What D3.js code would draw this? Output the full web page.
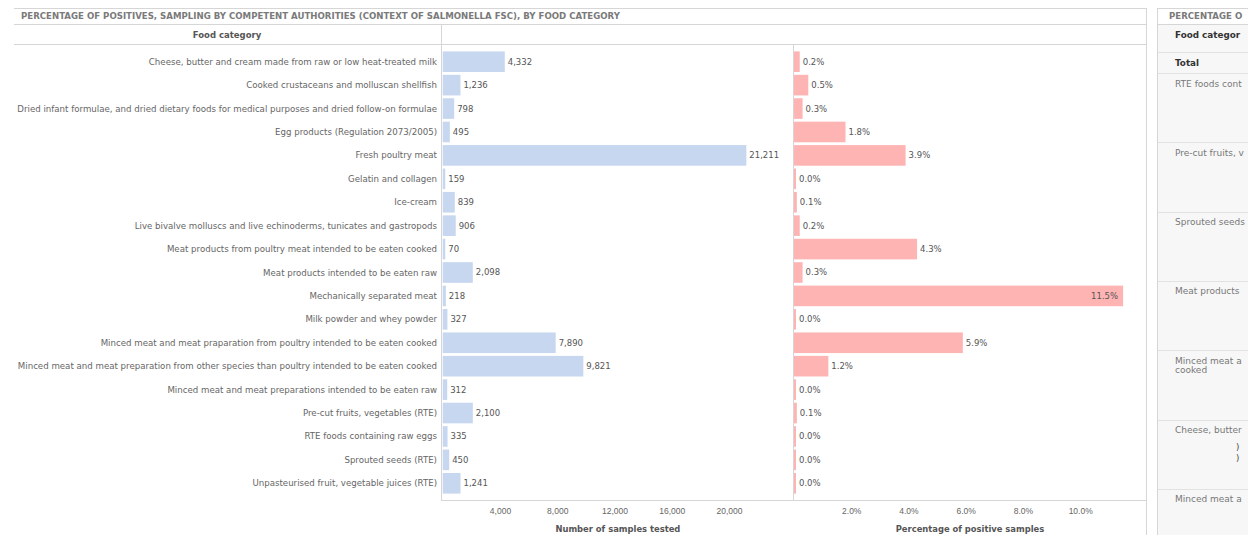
<!DOCTYPE html>
<html>
<head>
<meta charset="utf-8">
<script src="https://cdn.jsdelivr.net/npm/d3@7"></script>
<style>
  body { margin: 0; background: #fff; }
  svg { display: block; font-family: "DejaVu Sans", Verdana, sans-serif; }
</style>
</head>
<body>
<div id="chart"></div>
<script>
const categories = [
  "Cheese, butter and cream made from raw or low heat-treated milk",
  "Cooked crustaceans and molluscan shellfish",
  "Dried infant formulae, and dried dietary foods for medical purposes and dried follow-on formulae",
  "Egg products (Regulation 2073/2005)",
  "Fresh poultry meat",
  "Gelatin and collagen",
  "Ice-cream",
  "Live bivalve molluscs and live echinoderms, tunicates and gastropods",
  "Meat products from poultry meat intended to be eaten cooked",
  "Meat products intended to be eaten raw",
  "Mechanically separated meat",
  "Milk powder and whey powder",
  "Minced meat and meat praparation from poultry intended to be eaten cooked",
  "Minced meat and meat preparation from other species than poultry intended to be eaten cooked",
  "Minced meat and meat preparations intended to be eaten raw",
  "Pre-cut fruits, vegetables (RTE)",
  "RTE foods containing raw eggs",
  "Sprouted seeds (RTE)",
  "Unpasteurised fruit, vegetable juices (RTE)"
];
const samplesTested = [4332, 1236, 798, 495, 21211, 159, 839, 906, 70, 2098, 218, 327, 7890, 9821, 312, 2100, 335, 450, 1241];
const pctPositive = [0.2, 0.5, 0.3, 1.8, 3.9, 0.0, 0.1, 0.2, 4.3, 0.3, 11.5, 0.0, 5.9, 1.2, 0.0, 0.1, 0.0, 0.0, 0.0];
const samplesTicks = [4000, 8000, 12000, 16000, 20000];
const pctTicks = [2, 4, 6, 8, 10];

// second sheet on the right, only its left edge shows in the window
const sideRows = [
  ["RTE foods cont"],
  ["Pre-cut fruits, v"],
  ["Sprouted seeds"],
  ["Meat products"],
  ["Minced meat a", "cooked"],
  ["Cheese, butter"],
  ["Minced meat a"]
];

const W = 1248, H = 535;
const svg = d3.select("#chart").append("svg")
  .attr("width", W).attr("height", H);

const lineCol = "#d6d6d6";
const textCol = "#666";

const y = d3.scaleBand()
  .domain(categories)
  .range([50, 495])
  .paddingInner(0.12)
  .paddingOuter(0.06);

const xN = d3.scaleLinear().domain([0, 24470]).range([442.75, 793]);
const xP = d3.scaleLinear().domain([0, 12.3]).range([794, 1146]);

// frame lines
const hl = (x1, x2, yy) => svg.append("line").attr("x1", x1).attr("x2", x2).attr("y1", yy).attr("y2", yy).attr("stroke", lineCol);
const vl = (xx, y1, y2) => svg.append("line").attr("x1", xx).attr("x2", xx).attr("y1", y1).attr("y2", y2).attr("stroke", lineCol);
hl(14, 1146.5, 8.5);
hl(14, 1146.5, 24.5);
hl(14, 1146.5, 44.5);
vl(1146.5, 8, H);
vl(441.5, 24, 500);
vl(793.5, 44, 500);
hl(441, 1146.5, 500.5);

svg.append("text")
  .attr("x", 21).attr("y", 19)
  .attr("font-size", 8.6).attr("font-weight", "bold")
  .attr("fill", "#7a7a7a")
  .text("PERCENTAGE OF POSITIVES, SAMPLING BY COMPETENT AUTHORITIES (CONTEXT OF SALMONELLA FSC), BY FOOD CATEGORY");

svg.append("text")
  .attr("x", 227).attr("y", 37.5)
  .attr("text-anchor", "middle")
  .attr("font-size", 8.5).attr("font-weight", "bold")
  .attr("fill", "#555")
  .text("Food category");

// row labels
svg.append("g").selectAll("text")
  .data(categories)
  .join("text")
  .attr("x", 437)
  .attr("y", d => y(d) + y.bandwidth() / 2)
  .attr("dy", "0.35em")
  .attr("text-anchor", "end")
  .attr("font-size", 8.65)
  .attr("fill", textCol)
  .text(d => d);

const rows = categories.map((c, i) => ({ c, n: samplesTested[i], p: pctPositive[i] }));

// sample bars
svg.append("g").selectAll("rect")
  .data(rows)
  .join("rect")
  .attr("x", xN(0))
  .attr("y", d => y(d.c))
  .attr("width", d => Math.max(2.5, xN(d.n) - xN(0)))
  .attr("height", y.bandwidth())
  .attr("fill", "#c6d7ef");

svg.append("g").selectAll("text")
  .data(rows)
  .join("text")
  .attr("x", d => Math.max(xN(0) + 2.5, xN(d.n)) + 3)
  .attr("y", d => y(d.c) + y.bandwidth() / 2)
  .attr("dy", "0.35em")
  .attr("font-size", 8.5)
  .attr("fill", "#555")
  .text(d => d3.format(",")(d.n));

// percentage bars
svg.append("g").selectAll("rect")
  .data(rows)
  .join("rect")
  .attr("x", xP(0))
  .attr("y", d => y(d.c))
  .attr("width", d => Math.max(2, xP(d.p) - xP(0)))
  .attr("height", y.bandwidth())
  .attr("fill", "#ffb4b4");

svg.append("g").selectAll("text")
  .data(rows)
  .join("text")
  .attr("x", d => {
    const end = Math.max(xP(0) + 2, xP(d.p));
    return end + 40 > 1146 ? end - 5 : end + 3;
  })
  .attr("text-anchor", d => xP(d.p) + 40 > 1146 ? "end" : "start")
  .attr("y", d => y(d.c) + y.bandwidth() / 2)
  .attr("dy", "0.35em")
  .attr("font-size", 8.5)
  .attr("fill", "#555")
  .text(d => d.p.toFixed(1) + "%");

// axes
const axN = svg.append("g")
  .attr("transform", "translate(0,500.5)")
  .call(d3.axisBottom(xN).tickValues(samplesTicks).tickFormat(d3.format(",")).tickSize(0).tickPadding(7));
const axP = svg.append("g")
  .attr("transform", "translate(0,500.5)")
  .call(d3.axisBottom(xP).tickValues(pctTicks).tickFormat(d => d.toFixed(1) + "%").tickSize(0).tickPadding(7));
[axN, axP].forEach(a => {
  a.select(".domain").remove();
  a.selectAll("text").attr("font-size", 8.5).attr("fill", textCol).attr("font-family", null);
});

svg.append("text")
  .attr("x", (xN.range()[0] + xN.range()[1]) / 2).attr("y", 532)
  .attr("text-anchor", "middle")
  .attr("font-size", 8.4).attr("font-weight", "bold").attr("fill", "#555")
  .text("Number of samples tested");
svg.append("text")
  .attr("x", (xP.range()[0] + xP.range()[1]) / 2).attr("y", 532)
  .attr("text-anchor", "middle")
  .attr("font-size", 8.4).attr("font-weight", "bold").attr("fill", "#555")
  .text("Percentage of positive samples");

// right side sheet
const side = svg.append("g");
side.append("rect").attr("x", 1157.5).attr("y", 8.5).attr("width", 120).attr("height", H)
  .attr("fill", "#f7f7f7").attr("stroke", lineCol);
side.append("rect").attr("x", 1158).attr("y", 9).attr("width", 120).attr("height", 15).attr("fill", "#fff");
side.append("line").attr("x1", 1158).attr("x2", W).attr("y1", 24.5).attr("y2", 24.5).attr("stroke", lineCol);
side.append("text").attr("x", 1169).attr("y", 19)
  .attr("font-size", 8.6).attr("font-weight", "bold").attr("fill", "#7a7a7a")
  .text("PERCENTAGE O");
side.append("text").attr("x", 1175).attr("y", 37.5)
  .attr("font-size", 8.8).attr("font-weight", "bold").attr("fill", "#333")
  .text("Food categor");
side.append("line").attr("x1", 1158).attr("x2", W).attr("y1", 52.5).attr("y2", 52.5).attr("stroke", "#e2e2e2");
side.append("text").attr("x", 1175).attr("y", 65.5)
  .attr("font-size", 8.8).attr("font-weight", "bold").attr("fill", "#333")
  .text("Total");

const sideY = d3.scaleLinear().domain([0, 1]).range([73, 142.3]);
sideRows.forEach((r, i) => {
  side.append("line").attr("x1", 1158).attr("x2", W)
    .attr("y1", Math.round(sideY(i)) + 0.5).attr("y2", Math.round(sideY(i)) + 0.5)
    .attr("stroke", "#e2e2e2");
  r.forEach((t, j) => {
    side.append("text").attr("x", 1175).attr("y", sideY(i) + 13.5 + j * 9)
      .attr("font-size", 9).attr("fill", "#777").text(t);
  });
});
side.append("line").attr("x1", 1158).attr("x2", W)
  .attr("y1", Math.round(sideY(sideRows.length)) + 0.5)
  .attr("y2", Math.round(sideY(sideRows.length)) + 0.5).attr("stroke", "#e2e2e2");
side.append("text").attr("x", 1236).attr("y", 450).attr("font-size", 8.5).attr("fill", "#444").text(")");
side.append("text").attr("x", 1236).attr("y", 461).attr("font-size", 8.5).attr("fill", "#444").text(")");
</script>
</body>
</html>
